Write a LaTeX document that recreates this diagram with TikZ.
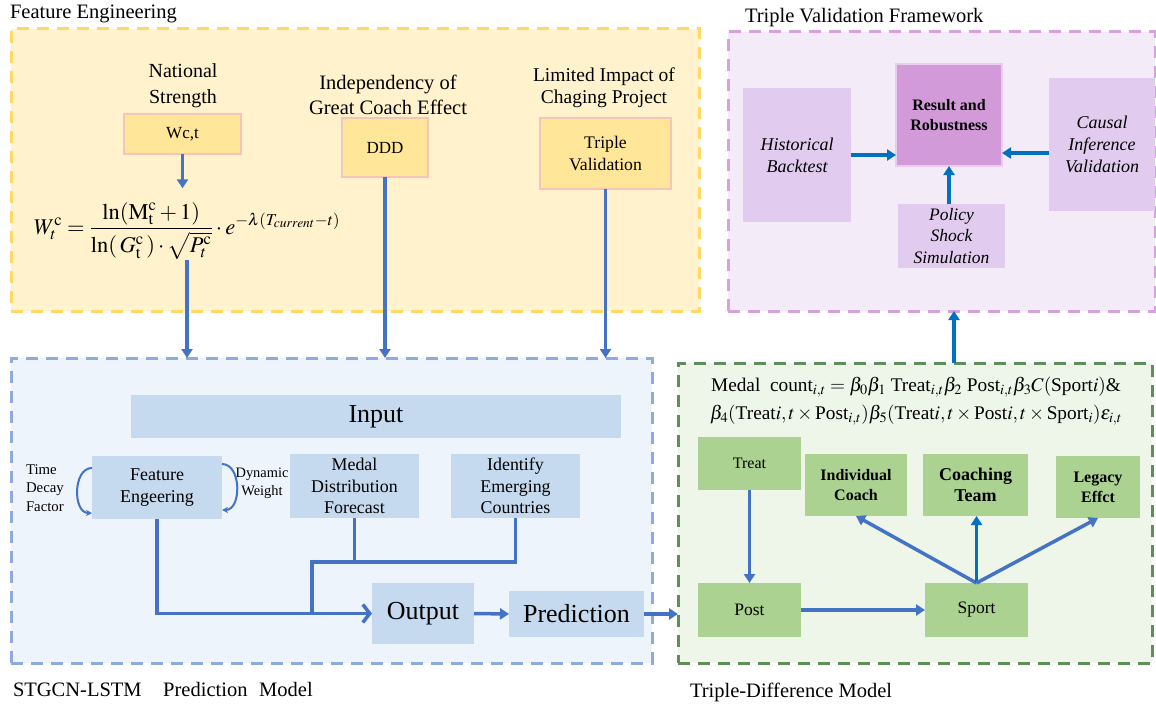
\documentclass[tikz,border=0pt]{standalone}
\usepackage{mathptmx}
\usepackage{fontspec}
\setmainfont{Liberation Serif}
\usetikzlibrary{positioning,arrows.meta,calc}

\definecolor{arrblue}{HTML}{4472C4}
\definecolor{arrdeep}{HTML}{0070C0}
\definecolor{yelarea}{HTML}{FFF2CC}
\definecolor{yelline}{HTML}{FFD966}
\definecolor{yelbox}{HTML}{FFE699}
\definecolor{yelbord}{HTML}{F8C3B8}
\definecolor{bluarea}{HTML}{EDF4FB}
\definecolor{bluline}{HTML}{8FAADC}
\definecolor{blubox}{HTML}{C5DAEE}
\definecolor{purarea}{HTML}{F4EBF8}
\definecolor{purline}{HTML}{D6A2DE}
\definecolor{purbox}{HTML}{E1CBEE}
\definecolor{purmain}{HTML}{D29AD9}
\definecolor{purbord}{HTML}{E8CDEE}
\definecolor{grnarea}{HTML}{EEF5E9}
\definecolor{grnline}{HTML}{5E8F5A}
\definecolor{grnbox}{HTML}{ABD290}

\begin{document}
\begin{tikzpicture}
    [x=1pt, y=-1pt,
    every node/.style={inner sep=0pt, outer sep=0pt, align=center},
    area/.style={rectangle, dash pattern=on 12pt off 8pt, line width=3pt},
    title/.style={anchor=base west, font=\fontsize{20.5}{24}\selectfont},
    ybox/.style={rectangle, fill=yelbox, draw=yelbord, line width=1.5pt},
    bbox/.style={rectangle, fill=blubox},
    pbox/.style={rectangle, fill=purbox, font=\fontsize{18}{22}\selectfont\itshape},
    gbox/.style={rectangle, fill=grnbox},
    arr/.style={draw=arrblue, line width=3.5pt, -{Triangle[length=9pt,width=11pt]}},
    parr/.style={draw=arrdeep, line width=3.5pt, -{Triangle[length=9pt,width=11pt]}},
    bline/.style={draw=arrblue, line width=3.5pt},
    curl/.style={draw=arrblue, line width=2pt, -{Stealth[length=6pt,width=6pt]}}]

    \useasboundingbox[fill=white] (0,0) rectangle (1156,706);

    \node[area, fill=yelarea, draw=yelline, minimum width=688pt, minimum height=282pt] (fearea) at (355,170) {};
    \node[area, fill=purarea, draw=purline, minimum width=427pt, minimum height=279pt] (tvarea) at (941.5,171.5) {};
    \node[area, fill=bluarea, draw=bluline, minimum width=641pt, minimum height=305pt] (pmarea) at (331.5,510.5) {};
    \node[area, fill=grnarea, draw=grnline, minimum width=474pt, minimum height=300pt] (tdarea) at (915,513) {};

    \node[title] (fetitle) at (10,19) {Feature Engineering};
    \node[title] (tvtitle) at (745,23) {Triple Validation Framework};
    \node[title] (pmtitle) at (13,696) {STGCN-LSTM\hspace{1.05em}Prediction\hspace{0.57em}Model};
    \node[title] (tdtitle) at (690,697) {Triple-Difference Model};

    \node[font=\fontsize{20}{26}\selectfont] (nslabel) at (183,86) {National\\Strength};
    \node[ybox, minimum width=117pt, minimum height=40pt, font=\fontsize{17}{20}\selectfont] (wct) at (182.5,134) {Wc,t};
    \node[font=\fontsize{22.5}{26}\selectfont] (fml) at (187,231)
        {$\displaystyle W_t^{\mathrm{c}}=\frac{\ln(\mathrm{M}_{\mathrm{t}}^{\mathrm{c}}+1)}{\ln(\,G_{\mathrm{t}}^{\mathrm{c}}\,)\cdot\sqrt{P_t^{\mathrm{c}}}}\cdot e^{-\lambda(T_{current}-t)}$};
    \node[font=\fontsize{20.5}{25}\selectfont] (idlabel) at (388,94.5) {Independency of\\Great Coach Effect};
    \node[ybox, minimum width=86pt, minimum height=59pt, font=\fontsize{17}{20}\selectfont] (ddd) at (385,147.5) {DDD};
    \node[font=\fontsize{19.5}{22}\selectfont] (lilabel) at (604,88) {Limited Impact of\\Chaging Project};
    \node[ybox, minimum width=131pt, minimum height=71pt, font=\fontsize{17.7}{22}\selectfont] (tv) at (605.5,153.5) {Triple\\Validation};

    \draw[arr, shorten >=14pt] (wct.south) -- (wct.south |- fml.north);
    \draw[arr] (fml.south) -- (fml.south |- pmarea.north);
    \draw[arr] (ddd.south) -- (ddd.south |- pmarea.north);
    \draw[arr] (tv.south) -- (tv.south |- pmarea.north);

    \node[pbox, minimum width=108pt, minimum height=134pt] (hb) at (797,155) {Historical\\Backtest};
    \node[rectangle, fill=purmain, draw=purbord, line width=1.5pt, minimum width=106pt, minimum height=102pt,
        font=\fontsize{16}{19.5}\selectfont\bfseries] (rr) at (949,115) {Result and\\Robustness};
    \node[pbox, minimum width=106pt, minimum height=133pt] (ci) at (1102,144.5) {Causal\\Inference\\Validation};
    \node[pbox, minimum width=107pt, minimum height=64pt, font=\fontsize{17.5}{21.5}\selectfont\itshape] (ps) at (951.5,236) {Policy\\Shock\\Simulation};

    \draw[parr] (hb.east) -- (hb.east -| rr.west);
    \draw[parr] ([yshift=-8.5pt]ci.west) -- ([yshift=-8.5pt]ci.west -| rr.east);
    \draw[parr] (ps.north -| rr.south) -- (rr.south);

    \node[bbox, minimum width=490pt, minimum height=43pt, font=\fontsize{26}{30}\selectfont] (input) at (376,416.5) {Input};
    \node[bbox, minimum width=130pt, minimum height=63pt, font=\fontsize{18}{22}\selectfont] (fe) at (157,487.5) {Feature\\Engeering};
    \node[bbox, minimum width=129pt, minimum height=64pt, font=\fontsize{17.9}{21.5}\selectfont] (mdf) at (354.5,486) {Medal\\Distribution\\Forecast};
    \node[bbox, minimum width=129pt, minimum height=64pt, font=\fontsize{17.9}{21.5}\selectfont] (iec) at (515.5,486) {Identify\\Emerging\\Countries};
    \node[bbox, minimum width=102pt, minimum height=61pt, font=\fontsize{26}{30}\selectfont] (out) at (423,613.5) {Output};
    \node[bbox, minimum width=135pt, minimum height=46pt, font=\fontsize{26}{30}\selectfont] (pred) at (576.5,614) {Prediction};
    \node[anchor=west, align=left, font=\fontsize{14.8}{18.5}\selectfont] (tdf) at (26,488) {Time\\Decay\\Factor};
    \node[font=\fontsize{14.4}{18}\selectfont] (dw) at (262,483) {Dynamic\\Weight};
    \coordinate (jn) at (312,562);

    \draw[curl] ([yshift=-12pt]fe.north west) to[out=180, in=180, looseness=1.1] ([yshift=6pt]fe.south west);
    \draw[curl] ([yshift=-8pt]fe.north east) to[out=0, in=0, looseness=1.1] ([yshift=9pt]fe.south east);
    \draw[bline, -{Straight Barb[length=7pt,width=18pt,line width=3.5pt]}] (fe.south) |- (out.west);
    \draw[bline] (mdf.south) -- (mdf.south |- jn);
    \draw[bline] (iec.south) |- (jn) -- (jn |- out.west);
    \draw[arr] (out.east) -- (pred.west);
    \draw[arr] (pred.east) -- (pred.east -| tdarea.west);

    \node[font=\fontsize{19.3}{28}\selectfont] (did) at (916,401)
        {Medal\ \ count$_{i,t}=\beta_0\beta_1\ $Treat$_{i,t}\beta_2\ $Post$_{i,t}\beta_3C($Sport$i)$\&\\
        $\beta_4($Treat$i,t\times{}$Post$_{i,t})\beta_5($Treat$i,t\times{}$Post$i,t\times{}$Sport$_i)\varepsilon_{i,t}$};
    \node[gbox, minimum width=103pt, minimum height=53pt, font=\fontsize{16}{20}\selectfont] (treat) at (749.5,463.5) {Treat};
    \node[gbox, minimum width=102pt, minimum height=62pt, font=\fontsize{16}{19.5}\selectfont\bfseries] (ic) at (856,485) {Individual\\Coach};
    \node[gbox, minimum width=105pt, minimum height=62pt, font=\fontsize{18}{21}\selectfont\bfseries] (ct) at (975.5,485) {Coaching\\Team};
    \node[gbox, minimum width=84pt, minimum height=62pt, font=\fontsize{16}{20}\selectfont\bfseries] (le) at (1098,487) {Legacy\\Effct};
    \node[gbox, minimum width=103pt, minimum height=54pt, font=\fontsize{17.5}{20}\selectfont] (post) at (749.5,610) {Post};
    \node[gbox, minimum width=103pt, minimum height=54pt, font=\fontsize{17.5}{20}\selectfont] (sport) at (976.5,610) {Sport};

    \draw[arr] (treat.south) -- (post.north);
    \draw[arr] (post.east) -- (sport.west);
    \draw[arr] (sport.north) -- (ic.south);
    \draw[parr] (sport.north) -- (sport.north |- ct.south);
    \draw[arr] (sport.north) -- (le.south);
    \draw[parr] (tdarea.north -| 954,0) -- (tvarea.south -| 954,0);
\end{tikzpicture}
\end{document}
